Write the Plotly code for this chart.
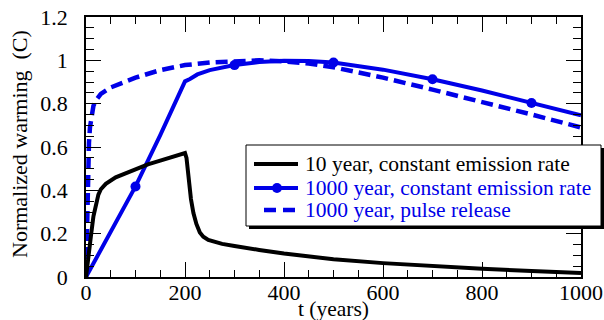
import plotly.graph_objects as go

# ---- data -------------------------------------------------------------
# 10 year, constant emission rate
t_10yr = [0, 5, 10, 15, 20, 25, 30, 40, 60, 80, 100, 125, 150, 175, 200,
          203, 207, 212, 217, 223, 230, 237, 247, 257, 275, 300, 325, 350,
          400, 446, 500, 600, 700, 800, 900, 1000]
w_10yr = [0, 0.08, 0.19, 0.28, 0.34, 0.38, 0.405, 0.43, 0.46, 0.48, 0.50,
          0.52, 0.537, 0.555, 0.572, 0.55, 0.45, 0.36, 0.295, 0.245, 0.205,
          0.186, 0.171, 0.163, 0.153, 0.143, 0.133, 0.125, 0.108, 0.094,
          0.082, 0.064, 0.05, 0.038, 0.028, 0.018]

# 1000 year, constant emission rate
t_1000c = [0, 50, 100, 150, 200, 210, 225, 250, 275, 300, 350, 400, 450,
           500, 600, 700, 800, 900, 1000]
w_1000c = [0, 0.205, 0.418, 0.655, 0.903, 0.914, 0.935, 0.955, 0.968, 0.978,
           0.992, 0.998, 0.997, 0.99, 0.957, 0.913, 0.861, 0.803, 0.746]
# marker positions along the constant-emission curve
t_marks = [100, 300, 500, 700, 900]
w_marks = [0.418, 0.978, 0.99, 0.913, 0.803]

# 1000 year, pulse release
t_pulse = [0, 1, 2, 4, 6, 8, 11, 15, 20, 30, 50, 75, 100, 150, 200, 250,
           300, 350, 400, 450, 500, 600, 700, 800, 900, 1000]
w_pulse = [0, 0.12, 0.30, 0.50, 0.62, 0.69, 0.75, 0.79, 0.815, 0.845, 0.875,
           0.90, 0.92, 0.955, 0.978, 0.99, 0.997, 1.0, 0.995, 0.985, 0.968,
           0.92, 0.865, 0.81, 0.75, 0.69]

x_ticks = [0, 200, 400, 600, 800, 1000]
y_ticks = [0, 0.2, 0.4, 0.6, 0.8, 1, 1.2]

legend_labels = ["10 year, constant emission rate",
                 "1000 year, constant emission rate",
                 "1000 year, pulse release"]
x_title = "t (years)"
y_title = "Normalized warming\u00a0 (C)"

# ---- styling ----------------------------------------------------------
FONT = "Liberation Serif"
BLACK = "#000000"
BLUE = "#0000e8"
W, H = 604, 320
M_L, M_R, M_T, M_B = 86, 23, 17, 43
PW, PH = W - M_L - M_R, H - M_T - M_B


def fx(xp):
    """page pixel x -> paper x"""
    return (xp - M_L) / PW


def fy(yp):
    """page pixel y -> paper y"""
    return (H - M_B - yp) / PH


fig = go.Figure()

fig.add_trace(go.Scatter(x=t_pulse, y=w_pulse, mode="lines",
                         line=dict(color=BLUE, width=4.5, dash="12px,6px"),
                         showlegend=False))
fig.add_trace(go.Scatter(x=t_1000c, y=w_1000c, mode="lines",
                         line=dict(color=BLUE, width=4), showlegend=False))
fig.add_trace(go.Scatter(x=t_marks, y=w_marks, mode="markers",
                         marker=dict(color=BLUE, size=10), showlegend=False))
fig.add_trace(go.Scatter(x=t_10yr, y=w_10yr, mode="lines",
                         line=dict(color=BLACK, width=4), showlegend=False))

axis_common = dict(
    showgrid=False, zeroline=False, showline=True, linecolor=BLACK,
    linewidth=1.5, mirror="ticks", ticks="inside", ticklen=15, tickwidth=1,
    tickcolor=BLACK, tickfont=dict(family=FONT, size=22, color=BLACK),
    automargin=False,
)

fig.update_xaxes(
    range=[0, 1000], tickvals=x_ticks, ticklabelstandoff=-5,
    minor=dict(dtick=50, tick0=0, ticks="inside", ticklen=7, tickcolor=BLACK),
    **axis_common,
)
fig.update_yaxes(
    range=[0, 1.2], tickvals=y_ticks, ticklabelstandoff=12,
    minor=dict(dtick=0.05, tick0=0, ticks="inside", ticklen=8, tickcolor=BLACK),
    **axis_common,
)

# ---- boxed key with drop shadow ---------------------------------------
shapes = [
    dict(type="rect", xref="paper", yref="paper", layer="above",
         x0=fx(249), x1=fx(604), y0=fy(148), y1=fy(229),
         fillcolor=BLACK, line=dict(width=0)),
    dict(type="rect", xref="paper", yref="paper", layer="above",
         x0=fx(246), x1=fx(601), y0=fy(145), y1=fy(226),
         fillcolor="white", line=dict(color=BLACK, width=1)),
]
rows_y = [164, 188, 210]
key_styles = [dict(color=BLACK, width=4, dash="solid"),
              dict(color=BLUE, width=4, dash="solid"),
              dict(color=BLUE, width=4.5, dash="12px,7px")]
key_x0 = [254, 254, 264]
for yp, st, x0 in zip(rows_y, key_styles, key_x0):
    shapes.append(dict(type="line", xref="paper", yref="paper", layer="above",
                       x0=fx(x0), x1=fx(298), y0=fy(yp), y1=fy(yp), line=st))
shapes.append(dict(type="circle", xref="paper", yref="paper", layer="above",
                   xsizemode="pixel", ysizemode="pixel",
                   xanchor=fx(277), yanchor=fy(rows_y[1]),
                   x0=-5, x1=5, y0=-5, y1=5,
                   fillcolor=BLUE, line=dict(color=BLUE, width=0)))

annotations = []
for yp, label, col in zip(rows_y, legend_labels, [BLACK, BLUE, BLUE]):
    annotations.append(dict(
        xref="paper", yref="paper", x=fx(303), y=fy(yp),
        xanchor="left", yanchor="middle", showarrow=False, text=label,
        font=dict(family=FONT, size=21.5, color=col)))

# axis titles
annotations.append(dict(
    xref="paper", yref="paper", x=0.5, y=fy(309), xanchor="center",
    yanchor="middle", showarrow=False, text=x_title,
    font=dict(family=FONT, size=21.5, color=BLACK)))
annotations.append(dict(
    xref="paper", yref="paper", x=fx(19), y=fy(144), xanchor="center",
    yanchor="middle", showarrow=False, text=y_title, textangle=-90,
    font=dict(family=FONT, size=22, color=BLACK)))

fig.update_layout(
    width=W, height=H,
    margin=dict(l=M_L, r=M_R, t=M_T, b=M_B, pad=0),
    paper_bgcolor="white", plot_bgcolor="white",
    shapes=shapes, annotations=annotations, showlegend=False,
)

fig.write_html("out.html")
